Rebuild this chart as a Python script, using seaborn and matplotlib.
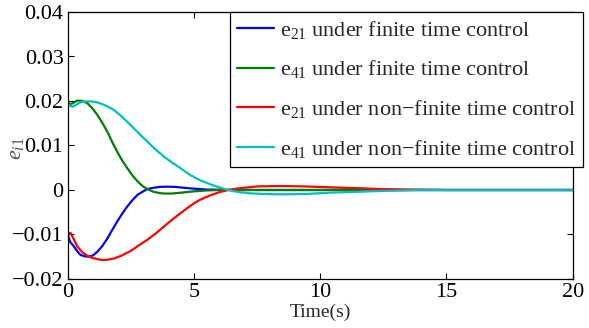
import numpy as np
import pandas as pd
import matplotlib
matplotlib.use("Agg")
import matplotlib.pyplot as plt
import seaborn as sns

# ---- data ----
t_blue = [0, 0.1, 0.25, 0.38, 0.51, 0.68, 0.84, 1.0, 1.17, 1.37, 1.57, 1.76, 1.96, 2.16, 2.36, 2.56,
          2.76, 2.96, 3.15, 3.4, 3.65, 3.94, 4.25, 4.6, 5.0, 5.5, 6.5, 8, 20]
e21_finite = [-0.0100, -0.0117, -0.0127, -0.0138, -0.0146, -0.0149, -0.0150, -0.0147, -0.0139, -0.0126,
              -0.0109, -0.0090, -0.0071, -0.0053, -0.0037, -0.0023, -0.0011, -0.0004, 0.0002, 0.0005,
              0.0007, 0.00075, 0.0007, 0.0005, 0.0003, 0.0001, 0.0, 0, 0]

t_green = [0, 0.1, 0.2, 0.38, 0.58, 0.78, 0.97, 1.17, 1.37, 1.57, 1.76, 1.96, 2.16, 2.36, 2.56, 2.76,
           2.96, 3.15, 3.4, 3.65, 3.85, 4.1, 4.5, 5.0, 5.5, 6.0, 7, 20]
e41_finite = [0.0197, 0.0193, 0.0195, 0.0201, 0.0200, 0.0195, 0.0184, 0.0169, 0.0151, 0.0131, 0.0108,
              0.0086, 0.0066, 0.0049, 0.0033, 0.0020, 0.0009, 0.0002, -0.0004, -0.0007, -0.0008,
              -0.0008, -0.0006, -0.0003, -0.0001, 0, 0, 0]

t_red = [0, 0.06, 0.12, 0.25, 0.38, 0.58, 0.78, 1.0, 1.31, 1.55, 1.83, 2.15, 2.49, 2.8, 3.15, 3.5,
         3.81, 4.15, 4.47, 4.75, 5.0, 5.24, 5.6, 6.0, 6.35, 6.8, 7.5, 8.4, 9.4, 10.4, 11.5, 12.5,
         13.5, 15, 20]
e21_nonfinite = [-0.0100, -0.0097, -0.0097, -0.0112, -0.0127, -0.0140, -0.0148, -0.0153, -0.0157,
                 -0.0157, -0.0154, -0.0147, -0.0137, -0.0125, -0.0112, -0.0097, -0.0082, -0.0066,
                 -0.0052, -0.0040, -0.0030, -0.0022, -0.0013, -0.0005, 0.0, 0.0004, 0.0008, 0.0009,
                 0.0008, 0.0006, 0.0004, 0.0002, 0.0001, 0, 0]

t_cyan = [0, 0.08, 0.18, 0.35, 0.5, 0.7, 0.95, 1.17, 1.5, 1.83, 2.16, 2.49, 2.82, 3.15, 3.48, 3.81,
          4.15, 4.47, 4.84, 5.24, 5.64, 6.0, 6.43, 6.8, 7.22, 7.8, 8.4, 9.4, 10.4, 11.5, 12.5, 14, 20]
e41_nonfinite = [0.0195, 0.0190, 0.0187, 0.0192, 0.0197, 0.0199, 0.0199, 0.0197, 0.0190, 0.0180,
                 0.0164, 0.0146, 0.0127, 0.0109, 0.0091, 0.0075, 0.0061, 0.0049, 0.0034, 0.0022,
                 0.0013, 0.0006, -0.0001, -0.0005, -0.00075, -0.0009, -0.00097, -0.0009, -0.0006,
                 -0.0004, -0.0002, 0, 0]

labels = ["e$_{21}$ under finite time control",
          "e$_{41}$ under finite time control",
          "e$_{21}$ under non\u2212finite time control",
          "e$_{41}$ under non\u2212finite time control"]
colors = ["#0000ff", "#008000", "#ff0000", "#00bfbf"]
x_ticks = [0, 5, 10, 15, 20]
y_ticks = [-0.02, -0.01, 0, 0.01, 0.02, 0.03, 0.04]
y_ticklabels = ["\u22120.02", "\u22120.01", "0", "0.01", "0.02", "0.03", "0.04"]

series = [(t_blue, e21_finite), (t_green, e41_finite), (t_red, e21_nonfinite), (t_cyan, e41_nonfinite)]

sns.set_style("ticks")
plt.rcParams["font.family"] = ["Liberation Serif", "DejaVu Serif"]
plt.rcParams["mathtext.fontset"] = "custom"
plt.rcParams["mathtext.rm"] = "Liberation Serif"
plt.rcParams["mathtext.it"] = "Liberation Serif:italic"

fig = plt.figure(figsize=(5.89, 3.28), dpi=100)
ax = fig.add_axes([67.7 / 589, 1 - 279 / 328, 505 / 589, 267 / 328])

for (tt, vv), lab, col in zip(series, labels, colors):
    sns.lineplot(x=tt, y=vv, color=col, label=lab, linewidth=1.6, ax=ax,
                 sort=False, estimator=None)

ax.set_xlim(0, 20)
ax.set_ylim(-0.02, 0.04)
ax.set_xticks(x_ticks)
ax.set_xticklabels([str(v) for v in x_ticks])
ax.set_yticks(y_ticks)
ax.set_yticklabels(y_ticklabels)
ax.tick_params(direction="in", length=4, width=0.8, labelsize=16, pad=3,
               top=True, right=True, colors="black")
for lbl in ax.get_xticklabels() + ax.get_yticklabels():
    lbl.set_fontfamily(["Liberation Serif", "DejaVu Serif"])
for s in ax.spines.values():
    s.set_visible(True)
    s.set_linewidth(0.9)
    s.set_color("black")

ax.set_xlabel("Time(s)", fontsize=14, labelpad=1)
ax.set_ylabel(r"$e_{i1}$", fontsize=16, color="#555555")
ax.yaxis.set_label_coords(-0.082, 0.49)

leg = ax.legend(loc="upper right", bbox_to_anchor=(1.0204, 1.0), fontsize=16,
                frameon=True, fancybox=False, framealpha=1, edgecolor="black",
                handlelength=1.65, handletextpad=0.3, labelspacing=0.8,
                borderpad=0.3, borderaxespad=0)
leg.get_frame().set_linewidth(0.9)
for h in leg.get_lines():
    h.set_linewidth(1.6)

fig.savefig("out.png", dpi=100)
